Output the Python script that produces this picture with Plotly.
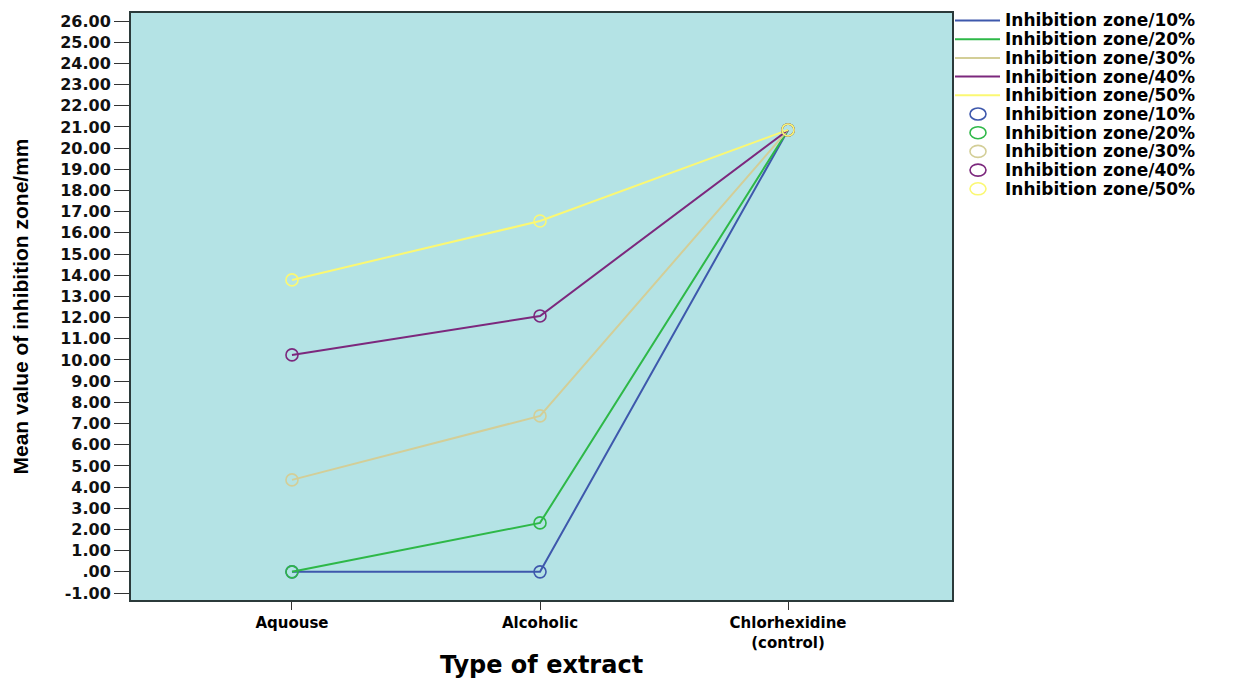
import plotly.graph_objects as go

categories = ["Aquouse", "Alcoholic", "Chlorhexidine<br>(control)"]
series_names = ["Inhibition zone/10%", "Inhibition zone/20%", "Inhibition zone/30%",
                "Inhibition zone/40%", "Inhibition zone/50%"]
zone_10 = [0.0, 0.0, 20.86]
zone_20 = [0.0, 2.31, 20.86]
zone_30 = [4.34, 7.36, 20.86]
zone_40 = [10.24, 12.08, 20.86]
zone_50 = [13.78, 16.56, 20.86]
series_values = [zone_10, zone_20, zone_30, zone_40, zone_50]
colors = ["#3E58AC", "#2EB848", "#D3CE97", "#7C287D", "#FBF873"]
y_ticks = list(range(-1, 27))
y_tick_text = [("%.2f" % v) if v != 0 else ".00" for v in y_ticks]

# The page body adds an 8px offset; target pixel positions are given in page pixels.
OFF = 8
W, H = 1236 - OFF, 679 - OFF
PL, PR, PT, PB = 131, 952, 13, 600          # plot frame in page pixels
ML, MT = PL - OFF, PT - OFF
PW, PH = PR - PL, PB - PT
MR, MB = W - ML - PW, H - MT - PH


def px_x(p):
    return (p - OFF - ML) / PW


def px_y(p):
    return (MT + PH - (p - OFF)) / PH


fig = go.Figure()
for name, vals, c in zip(series_names, series_values, colors):
    fig.add_trace(go.Scatter(x=categories, y=vals, mode="lines", name=name,
                             line=dict(color=c, width=2), showlegend=False))
for name, vals, c in zip(series_names, series_values, colors):
    fig.add_trace(go.Scatter(x=categories, y=vals, mode="markers", name=name,
                             marker=dict(symbol="circle-open", size=12, color=c,
                                         line=dict(width=1.6, color=c)),
                             showlegend=False))

# Legend (text + symbols, two blocks: lines then markers)
wide = "DejaVu Sans, Verdana, sans-serif"
shapes = []
annotations = []
legend_entries = [("line", n, c) for n, c in zip(series_names, colors)] + \
                 [("marker", n, c) for n, c in zip(series_names, colors)]
row_y0, row_dy = 20.5, 18.7
for i, (kind, name, c) in enumerate(legend_entries):
    yc = row_y0 + i * row_dy
    if kind == "line":
        shapes.append(dict(type="line", xref="paper", yref="paper",
                           x0=px_x(955), x1=px_x(1000), y0=px_y(yc), y1=px_y(yc),
                           line=dict(color=c, width=2)))
    else:
        shapes.append(dict(type="circle", xref="paper", yref="paper",
                           x0=px_x(970), x1=px_x(986), y0=px_y(yc - 6), y1=px_y(yc + 6),
                           line=dict(color=c, width=1.6)))
    annotations.append(dict(text=name, xref="paper", yref="paper", x=px_x(1004), y=px_y(yc),
                            xanchor="left", yanchor="middle", showarrow=False, borderpad=0,
                            font=dict(family=wide, size=17, color="black", weight="bold")))

fig.update_layout(
    width=W, height=H,
    margin=dict(l=ML, r=MR, t=MT, b=MB),
    paper_bgcolor="white",
    plot_bgcolor="#B4E3E5",
    showlegend=False,
    shapes=shapes,
    annotations=annotations,
    xaxis=dict(range=[-0.649, 2.661], tickvals=categories, ticktext=categories,
               showgrid=False, zeroline=False, showline=True, mirror=True, automargin=False,
               linecolor="#2b3a3a", linewidth=2, ticks="outside", ticklen=8,
               tickcolor="#333", tickfont=dict(family=wide, size=15, color="black", weight="bold"),
               title=dict(text="Type of extract", standoff=12,
                          font=dict(family=wide, size=24, color="black", weight="bold"))),
    yaxis=dict(range=[-1.33, 26.38], tickvals=y_ticks, ticktext=y_tick_text,
               showgrid=False, zeroline=False, showline=True, mirror=True, automargin=False,
               linecolor="#2b3a3a", linewidth=2, ticks="outside", ticklen=15,
               tickcolor="#333", tickfont=dict(family=wide, size=16, color="#111", weight="bold"),
               title=dict(text="Mean value of inhibition zone/mm", standoff=26,
                          font=dict(family="Liberation Sans, Arial, sans-serif",
                                    size=21, color="black", weight="bold"))),
)

fig.write_html("out.html")
